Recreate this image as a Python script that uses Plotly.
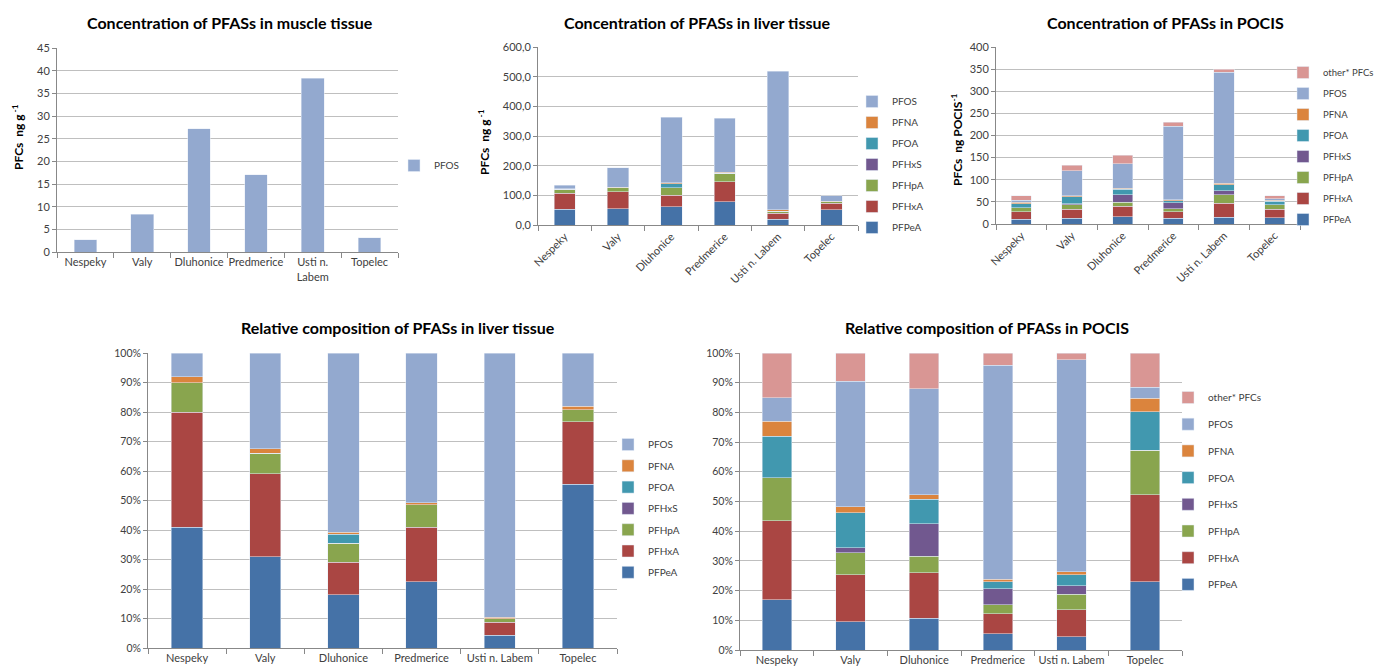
import plotly.graph_objects as go

W, H = 1387, 671
OFF = 8                      # default page body margin

sites = ["Nespeky", "Valy", "Dluhonice", "Predmerice", "Usti n. Labem", "Topelec"]
muscle_ticktext = ["Nespeky", "Valy", "Dluhonice", "Predmerice", "Usti n.<br>Labem", "Topelec"]

# Muscle tissue, ng/g
muscle_pfos = [2.7, 8.3, 27.2, 17.0, 38.3, 3.1]

# Liver tissue concentrations, ng/g
liver_compounds = ["PFPeA", "PFHxA", "PFHpA", "PFHxS", "PFOA", "PFNA", "PFOS"]
liver_PFPeA = [53, 55, 62, 78, 20, 52]
liver_PFHxA = [54, 57, 39, 67, 20, 22]
liver_PFHpA = [14, 14, 25, 29, 7, 4]
liver_PFHxS = [0, 0, 0, 0, 0, 0]
liver_PFOA = [0, 0, 13, 0, 0, 0]
liver_PFNA = [2, 2, 3, 3, 5, 1.5]
liver_PFOS = [11, 65, 221, 183, 466, 18.5]

# POCIS concentrations, ng/POCIS
pocis_compounds = ["PFPeA", "PFHxA", "PFHpA", "PFHxS", "PFOA", "PFNA", "PFOS", "other* PFCs"]
pocis_PFPeA = [11, 12.6, 16.6, 12.7, 15.8, 14.7]
pocis_PFHxA = [17, 21, 23.7, 15.4, 31.5, 18.7]
pocis_PFHpA = [9, 10, 8.5, 6.9, 18.6, 9.6]
pocis_PFHxS = [0, 2.3, 17, 12.7, 9.8, 0]
pocis_PFOA = [9, 15.6, 12.7, 5.3, 13.3, 8.3]
pocis_PFNA = [3, 2.7, 2.3, 1.8, 3.5, 2.9]
pocis_PFOS = [5, 56.3, 55.5, 165.6, 250, 2.4]
pocis_other = [10, 12.6, 18.6, 9.7, 7.7, 7.4]

# Relative composition in liver, %
rl_PFPeA = [41, 31, 18, 22.5, 4.3, 55.5]
rl_PFHxA = [39, 28, 11, 18.5, 4.5, 21.2]
rl_PFHpA = [10, 7, 6.5, 7.5, 1.2, 4]
rl_PFHxS = [0, 0, 0, 0, 0, 0]
rl_PFOA = [0, 0, 3, 0, 0, 0]
rl_PFNA = [2, 1.5, 0.7, 0.7, 0.5, 1.3]
rl_PFOS = [8, 32.5, 60.8, 50.8, 89.5, 18]

# Relative composition in POCIS, %
rp_PFPeA = [17, 9.5, 10.7, 5.5, 4.5, 23]
rp_PFHxA = [26.5, 15.8, 15.3, 6.7, 9, 29.2]
rp_PFHpA = [14.5, 7.5, 5.5, 3, 5.3, 15]
rp_PFHxS = [0, 1.7, 11, 5.5, 2.8, 0]
rp_PFOA = [14, 11.7, 8.2, 2.3, 3.8, 13]
rp_PFNA = [5, 2, 1.5, 0.8, 1, 4.5]
rp_PFOS = [8, 42.3, 35.8, 72, 71.4, 3.8]
rp_other = [15, 9.5, 12, 4.2, 2.2, 11.5]

liver_vals = [liver_PFPeA, liver_PFHxA, liver_PFHpA, liver_PFHxS, liver_PFOA, liver_PFNA, liver_PFOS]
pocis_vals = [pocis_PFPeA, pocis_PFHxA, pocis_PFHpA, pocis_PFHxS, pocis_PFOA, pocis_PFNA, pocis_PFOS, pocis_other]
rl_vals = [rl_PFPeA, rl_PFHxA, rl_PFHpA, rl_PFHxS, rl_PFOA, rl_PFNA, rl_PFOS]
rp_vals = [rp_PFPeA, rp_PFHxA, rp_PFHpA, rp_PFHxS, rp_PFOA, rp_PFNA, rp_PFOS, rp_other]

colors = {
    "PFPeA": "#4572A7", "PFHxA": "#AA4643", "PFHpA": "#89A54E", "PFHxS": "#71588F",
    "PFOA": "#4198AF", "PFNA": "#DB843D", "PFOS": "#93A9CF", "other* PFCs": "#D99694",
}

FONT = "Lato, Open Sans, sans-serif"
TXT = "#404040"
GRID = "#BFBFBF"
AXL = "#888888"

def px_x(p):
    return (p - OFF) / W

def px_y(p):
    return 1 - (p - OFF) / H

fig = go.Figure()

# Muscle
fig.add_trace(go.Bar(x=sites, y=muscle_pfos, name="PFOS", marker_color=colors["PFOS"],
                     xaxis="x", yaxis="y", legend="legend", showlegend=True))

def add_stack(names, vals, xa, ya, lg, lgname):
    for i, (n, v) in enumerate(zip(names, vals)):
        fig.add_trace(go.Bar(x=sites, y=v, name=n, marker_color=colors[n],
                             xaxis=xa, yaxis=ya, legend=lg, legendgroup=lgname + n,
                             legendrank=100 - i, showlegend=True))

add_stack(liver_compounds, liver_vals, "x2", "y2", "legend2", "l2")
add_stack(pocis_compounds, pocis_vals, "x3", "y3", "legend3", "l3")
add_stack(liver_compounds, rl_vals, "x4", "y4", "legend4", "l4")
add_stack(pocis_compounds, rp_vals, "x5", "y5", "legend5", "l5")

def xaxis(dom, anchor, angle, fs, ticktext=None):
    d = dict(domain=[px_x(dom[0]), px_x(dom[1])], anchor=anchor, type="category",
             showline=True, linecolor=AXL, linewidth=1, ticks="outside", tickson="boundaries",
             ticklen=5, tickcolor=AXL, tickangle=angle, tickfont=dict(size=fs, color=TXT, family=FONT),
             showgrid=False, zeroline=False, fixedrange=True, automargin=False)
    if ticktext is not None:
        d["tickmode"] = "array"
        d["tickvals"] = sites
        d["ticktext"] = ticktext
    return d

def yaxis(dom, anchor, rng, tv, tt, fs):
    return dict(domain=[px_y(dom[1]), px_y(dom[0])], anchor=anchor, range=rng,
                tickmode="array", tickvals=tv, ticktext=tt,
                showline=True, linecolor=AXL, linewidth=1, ticks="outside", ticklen=4, tickcolor=AXL,
                showgrid=True, gridcolor=GRID, gridwidth=1, zeroline=False, automargin=False,
                tickfont=dict(size=fs, color=TXT, family=FONT), fixedrange=True)

m_tv = list(range(0, 50, 5))
l_tv = list(range(0, 700, 100))
p_tv = list(range(0, 450, 50))
r_tv = list(range(0, 110, 10))

fig.update_layout(
    width=W, height=H, margin=dict(l=0, r=0, t=0, b=0, pad=0, autoexpand=False),
    paper_bgcolor="white", plot_bgcolor="white", showlegend=True,
    barmode="stack", bargap=0.6,
    font=dict(family=FONT, color=TXT, size=11),
    xaxis=xaxis((57, 398), "y", 0, 11, muscle_ticktext),
    yaxis=yaxis((48, 252), "x", [0, 45], m_tv, [str(v) for v in m_tv], 11),
    xaxis2=xaxis((538, 858), "y2", -45, 11),
    yaxis2=yaxis((47, 225), "x2", [0, 600], l_tv, [f"{v},0" for v in l_tv], 11),
    xaxis3=xaxis((996, 1300), "y3", -45, 11),
    yaxis3=yaxis((47, 224), "x3", [0, 400], p_tv, [str(v) for v in p_tv], 11),
    xaxis4=xaxis((148, 617), "y4", 0, 11),
    yaxis4=yaxis((353, 648), "x4", [0, 100], r_tv, [f"{v}%" for v in r_tv], 10.5),
    xaxis5=xaxis((740, 1182), "y5", 0, 11),
    yaxis5=yaxis((353, 650), "x5", [0, 100], r_tv, [f"{v}%" for v in r_tv], 10.5),
)

def legend(xpx, ypx, gap, fs=10):
    return dict(x=px_x(xpx), y=px_y(ypx), xref="container", yref="container",
                xanchor="left", yanchor="top",
                traceorder="grouped", tracegroupgap=gap, itemwidth=30,
                font=dict(size=fs, color=TXT, family=FONT), bgcolor="rgba(0,0,0,0)",
                borderwidth=0, itemclick=False, itemdoubleclick=False)

fig.update_layout(
    legend=legend(394, 151, 2),
    legend2=legend(852, 87, 2),
    legend3=legend(1283, 58, 2, 9.5),
    legend4=legend(608, 430, 2.3),
    legend5=legend(1168, 383, 7.7),
)

def title(text, xc, yc, size):
    fig.add_annotation(text=f"<b>{text}</b>", x=px_x(xc), y=px_y(yc), xref="paper", yref="paper",
                       xanchor="center", yanchor="middle", showarrow=False,
                       font=dict(size=size, color="#000000", family=FONT))

title("Concentration of PFASs in muscle tissue", 230, 22, 16)
title("Concentration of PFASs in liver tissue", 697, 22, 16)
title("Concentration of PFASs in POCIS", 1165, 22, 16)
title("Relative composition of PFASs in liver tissue", 398, 327, 16)
title("Relative composition of PFASs in POCIS", 987, 328, 16)

def ytitle(text, xc, yc):
    fig.add_annotation(text=f"<b>{text}</b>", x=px_x(xc), y=px_y(yc), xref="paper", yref="paper",
                       xanchor="center", yanchor="middle", showarrow=False, textangle=-90,
                       font=dict(size=12, color="#000000", family=FONT))

ytitle("PFCs  ng g<sup> -1</sup>", 18, 137)
ytitle("PFCs  ng g<sup> -1</sup>", 484, 142)
ytitle("PFCs  ng POCIS<sup>-1</sup>", 957, 140)

fig.write_html("out.html")
